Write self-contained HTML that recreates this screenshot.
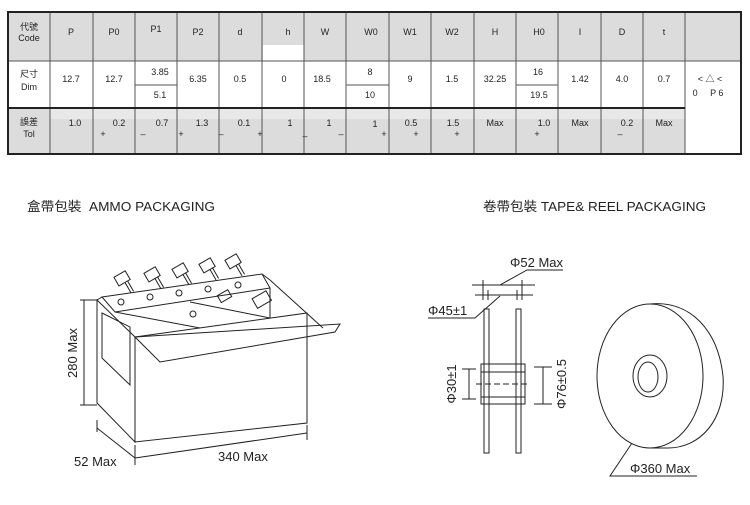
<!DOCTYPE html>
<html><head><meta charset="utf-8"><style>
body{margin:0;background:#fff;width:750px;height:505px;overflow:hidden}
svg{display:block}
text{font-family:"Liberation Sans","Noto Sans CJK TC",sans-serif;fill:#222}
.t{font-size:9px;text-anchor:middle}
.l{fill:none;stroke:#222;stroke-width:1}
</style></head><body>
<svg width="750" height="505" viewBox="0 0 750 505">
<!-- table -->
<rect x="8" y="12" width="733" height="49" fill="#dcdcdc"/>
<rect x="8" y="108" width="677" height="46" fill="#dcdcdc"/>
<rect x="50" y="109" width="635" height="10" fill="#e8e8e8"/>
<rect x="263" y="45" width="41" height="16" fill="#fff"/>
<g stroke="#555" stroke-width="1">
<line x1="50" y1="12" x2="50" y2="154"/><line x1="93" y1="12" x2="93" y2="154"/>
<line x1="135" y1="12" x2="135" y2="154"/><line x1="177" y1="12" x2="177" y2="154"/>
<line x1="219" y1="12" x2="219" y2="154"/><line x1="262" y1="12" x2="262" y2="154"/>
<line x1="304" y1="12" x2="304" y2="154"/><line x1="346" y1="12" x2="346" y2="154"/>
<line x1="389" y1="12" x2="389" y2="154"/><line x1="431" y1="12" x2="431" y2="154"/>
<line x1="474" y1="12" x2="474" y2="154"/><line x1="516" y1="12" x2="516" y2="154"/>
<line x1="558" y1="12" x2="558" y2="154"/><line x1="601" y1="12" x2="601" y2="154"/>
<line x1="643" y1="12" x2="643" y2="154"/><line x1="685" y1="12" x2="685" y2="154"/>
<line x1="8" y1="61" x2="741" y2="61"/>
<line x1="135" y1="85" x2="177" y2="85"/><line x1="346" y1="85" x2="389" y2="85"/><line x1="516" y1="85" x2="558" y2="85"/>
</g>
<line x1="8" y1="108" x2="685" y2="108" stroke="#222" stroke-width="2"/>
<rect x="8" y="12" width="733" height="142" fill="none" stroke="#222" stroke-width="2"/>
<g class="t">
<text x="29" y="30" class="t">代號</text><text x="29" y="41" class="t">Code</text>
<text x="71" y="35" class="t">P</text><text x="114" y="35" class="t">P0</text><text x="156" y="32" class="t">P1</text>
<text x="198" y="35" class="t">P2</text><text x="240" y="35" class="t">d</text><text x="288" y="35" class="t">h</text>
<text x="325" y="35" class="t">W</text><text x="371" y="35" class="t">W0</text><text x="410" y="35" class="t">W1</text>
<text x="452" y="35" class="t">W2</text><text x="495" y="35" class="t">H</text><text x="539" y="35" class="t">H0</text>
<text x="580" y="35" class="t">I</text><text x="622" y="35" class="t">D</text><text x="664" y="35" class="t">t</text>
<text x="29" y="77" class="t">尺寸</text><text x="29" y="90" class="t">Dim</text>
<text x="71" y="82" class="t">12.7</text><text x="114" y="82" class="t">12.7</text>
<text x="160" y="75" class="t">3.85</text><text x="160" y="98" class="t">5.1</text>
<text x="198" y="82" class="t">6.35</text><text x="240" y="82" class="t">0.5</text><text x="284" y="82" class="t">0</text>
<text x="322" y="82" class="t">18.5</text><text x="370" y="75" class="t">8</text><text x="370" y="98" class="t">10</text>
<text x="410" y="82" class="t">9</text><text x="452" y="82" class="t">1.5</text><text x="495" y="82" class="t">32.25</text>
<text x="538" y="75" class="t">16</text><text x="539" y="98" class="t">19.5</text>
<text x="580" y="82" class="t">1.42</text><text x="622" y="82" class="t">4.0</text><text x="664" y="82" class="t">0.7</text>
<text x="710" y="82" class="t" fill="#777">&lt; △ &lt;</text><text x="708" y="96" class="t">0 &#160;&#160;&#160; P 6</text>
<text x="29" y="125" class="t">誤差</text><text x="29" y="137" class="t">Tol</text>
<text x="75" y="126" class="t">1.0</text><text x="119" y="126" class="t">0.2</text><text x="162" y="126" class="t">0.7</text>
<text x="202" y="126" class="t">1.3</text><text x="244" y="126" class="t">0.1</text><text x="290" y="126" class="t">1</text>
<text x="329" y="126" class="t">1</text><text x="375" y="127" class="t">1</text><text x="411" y="126" class="t">0.5</text>
<text x="453" y="126" class="t">1.5</text><text x="495" y="126" class="t">Max</text><text x="544" y="126" class="t">1.0</text>
<text x="580" y="126" class="t">Max</text><text x="627" y="126" class="t">0.2</text><text x="664" y="126" class="t">Max</text>
<text x="103" y="137" class="t">+</text><text x="143" y="137" class="t">–</text><text x="181" y="137" class="t">+</text>
<text x="221" y="137" class="t">–</text><text x="260" y="137" class="t">+</text><text x="305" y="139" class="t">–</text>
<text x="341" y="137" class="t">–</text><text x="384" y="137" class="t">+</text><text x="416" y="137" class="t">+</text>
<text x="457" y="137" class="t">+</text><text x="537" y="137" class="t">+</text><text x="620" y="137" class="t">–</text>
</g>
<!-- titles -->
<text x="27" y="211" style="font-size:13px" textLength="188" lengthAdjust="spacingAndGlyphs">盒帶包裝 &#160;AMMO PACKAGING</text>
<text x="483" y="211" style="font-size:13px" textLength="223" lengthAdjust="spacingAndGlyphs">卷帶包裝 TAPE&amp; REEL PACKAGING</text>
<!-- ammo box -->
<g class="l">
<polygon points="97,300 135,337 135,442 97,403"/>
<polygon points="135,337 307,313 307,423 135,442"/>
<polygon points="102,313 130,327 130,385 102,358"/>
<polygon points="102,297 262,274 270,288 115,312"/>
<polyline points="262,274 270,280 323,328"/>
<polyline points="115,312 200,328"/>
<polyline points="190,302 270,318"/>
<polyline points="270,288 270,318"/>
<polygon points="135,337 340,324 335,332 160,362"/>
<polyline points="97,300 102,297"/>
<circle cx="121" cy="302" r="3"/><circle cx="150" cy="297" r="3"/><circle cx="179" cy="293" r="3"/>
<circle cx="208" cy="289" r="3"/><circle cx="238" cy="285" r="3"/><circle cx="193" cy="314" r="3"/>
<g transform="translate(123,279) rotate(-30)"><rect x="-7" y="-6" width="13" height="10"/><line x1="0" y1="4" x2="0" y2="16"/><line x1="3" y1="4" x2="3" y2="16"/></g>
<g transform="translate(153,275) rotate(-30)"><rect x="-7" y="-6" width="13" height="10"/><line x1="0" y1="4" x2="0" y2="16"/><line x1="3" y1="4" x2="3" y2="16"/></g>
<g transform="translate(181,271) rotate(-30)"><rect x="-7" y="-6" width="13" height="10"/><line x1="0" y1="4" x2="0" y2="16"/><line x1="3" y1="4" x2="3" y2="16"/></g>
<g transform="translate(208,266) rotate(-30)"><rect x="-7" y="-6" width="13" height="10"/><line x1="0" y1="4" x2="0" y2="16"/><line x1="3" y1="4" x2="3" y2="16"/></g>
<g transform="translate(234,262) rotate(-30)"><rect x="-7" y="-6" width="13" height="10"/><line x1="0" y1="4" x2="0" y2="16"/><line x1="3" y1="4" x2="3" y2="16"/></g>
<g transform="translate(225,297) rotate(-30)"><rect x="-6" y="-5" width="12" height="8"/></g>
<g transform="translate(262,300) rotate(-30)"><rect x="-8" y="-6" width="16" height="11"/></g>
<line x1="84" y1="300" x2="84" y2="405"/><line x1="80" y1="300" x2="97" y2="300"/><line x1="80" y1="405" x2="97" y2="405"/>
<line x1="97" y1="428" x2="135" y2="458"/><line x1="97" y1="420" x2="97" y2="432"/><line x1="135" y1="445" x2="135" y2="465"/>
<line x1="135" y1="458" x2="307" y2="433"/><line x1="307" y1="425" x2="307" y2="440"/>
</g>
<text x="77" y="353" transform="rotate(-90 77 353)" style="font-size:13px;text-anchor:middle">280 Max</text>
<text x="74" y="466" style="font-size:13px">52 Max</text>
<text x="218" y="461" style="font-size:13px">340 Max</text>
<!-- reel side -->
<g class="l">
<rect x="484" y="309" width="5" height="144"/><rect x="516" y="309" width="5" height="144"/>
<rect x="481" y="364" width="44" height="40"/>
<line x1="481" y1="372" x2="525" y2="372"/><line x1="481" y1="397" x2="525" y2="397"/>
<line x1="476" y1="384" x2="530" y2="384" stroke-dasharray="6,3"/>
<line x1="472" y1="285" x2="535" y2="285"/><line x1="475" y1="295" x2="533" y2="295"/>
<line x1="483" y1="280" x2="483" y2="300"/><line x1="522" y1="280" x2="522" y2="300"/>
<line x1="488" y1="290" x2="488" y2="300"/><line x1="517" y1="290" x2="517" y2="300"/>
<polyline points="500,285 527,270 563,270"/><polyline points="500,296 475,318 428,318"/>
<line x1="469" y1="369" x2="469" y2="399"/><line x1="462" y1="369" x2="476" y2="369"/><line x1="462" y1="399" x2="476" y2="399"/>
<line x1="543" y1="367" x2="543" y2="404"/><line x1="534" y1="367" x2="552" y2="367"/><line x1="534" y1="404" x2="552" y2="404"/>
<!-- reel front -->
<path d="M650,304 C690,300 718,330 723,376 C726,420 700,448 668,448 L650,448"/>
<ellipse cx="650" cy="376" rx="53" ry="72" fill="#fff"/>
<ellipse cx="650" cy="376" rx="17" ry="21"/>
<ellipse cx="648" cy="377" rx="10" ry="15"/>
<polyline points="632,443 610,476 697,476"/>
</g>
<text x="510" y="267" style="font-size:13px">Φ52 Max</text>
<text x="428" y="315" style="font-size:13px">Φ45±1</text>
<text x="456" y="384" transform="rotate(-90 456 384)" style="font-size:13px;text-anchor:middle">Φ30±1</text>
<text x="566" y="384" transform="rotate(-90 566 384)" style="font-size:13px;text-anchor:middle">Φ76±0.5</text>
<text x="630" y="473" style="font-size:13px">Φ360 Max</text>
</svg>
</body></html>
